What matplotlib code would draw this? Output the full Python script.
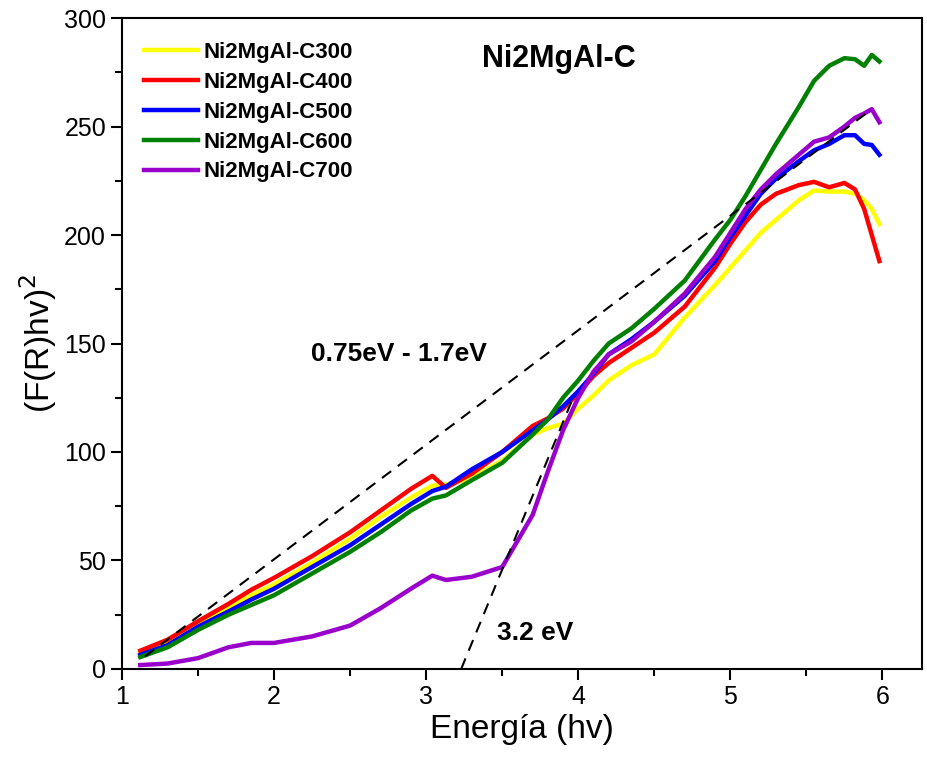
import matplotlib
matplotlib.use("Agg")
from matplotlib import pyplot as plt

plt.rcParams['font.family'] = ['Liberation Sans', 'DejaVu Sans']

# energy grid (eV) shared by all samples
energia = [1.12, 1.3, 1.5, 1.7, 1.85, 2.0, 2.25, 2.5, 2.7, 2.9, 3.04, 3.13,
           3.3, 3.5, 3.7, 3.8, 3.9, 4.0, 4.1, 4.2, 4.35, 4.5, 4.7, 4.9,
           5.0, 5.1, 5.2, 5.3, 5.45, 5.55, 5.65, 5.75, 5.82, 5.88, 5.93, 5.98]

c300 = [7.5, 12, 20.5, 28, 34, 39, 49, 60, 70, 79, 84.5, 85,
        88, 96, 108, 111, 113, 120, 126, 133, 140, 145, 162, 177,
        185, 193, 201, 207, 216, 220.5, 220, 220, 219, 216, 212, 205]
c400 = [8.4, 13.5, 22, 30, 36.5, 42, 52, 63, 73, 83, 89, 83.5,
        90, 100, 112, 115.5, 120, 127, 135, 141, 148, 155, 167, 185,
        196, 206, 214, 219, 223, 224.5, 222, 224, 221, 212, 200, 188]
c500 = [6.5, 11, 19.5, 26.5, 32, 37, 47, 57, 66.5, 76, 82, 84,
        92, 100, 110, 115, 121, 128, 136, 145, 152, 160, 172, 188,
        199, 209, 219, 226, 234, 239, 242, 246, 246, 242, 241.5, 237]
c600 = [5.5, 10, 18, 25, 29.5, 34, 44, 54, 63, 73, 78.5, 80,
        87, 95, 108, 115, 125, 133, 142, 150, 157, 166, 179, 198,
        207, 218, 230, 242, 259, 271, 278, 281.5, 281, 278, 283, 280]
c700 = [1.8, 2.5, 5, 10, 12, 12, 15, 20, 28, 37, 43, 41,
        42.5, 47, 71, 91, 110, 125, 137, 145, 151, 160, 173, 190,
        201, 212, 221, 228, 237, 243, 245, 250, 254, 256, 258, 252]

series = [c300, c400, c500, c600, c700]
nomes = ['Ni2MgAl-C300', 'Ni2MgAl-C400', 'Ni2MgAl-C500', 'Ni2MgAl-C600', 'Ni2MgAl-C700']
cores = ['#FFFF00', '#FF0000', '#0000FF', '#008000', '#9900CC']

# tangent lines (x, y endpoints)
tang1_x = [1.15, 5.93]
tang1_y = [5.7, 258]
tang2_x = [3.23, 3.96]
tang2_y = [0, 124]

fig = plt.figure(figsize=(9.28, 7.74), dpi=100)
ax = fig.add_axes([0.1315, 0.1357, 0.862, 0.841])

for y, nome, cor in zip(series, nomes, cores):
    ax.plot(energia, y, color=cor, lw=3.2, label=nome, solid_joinstyle='round')

ax.plot(tang1_x, tang1_y, color='black', lw=1.5, dashes=(5.5, 4))
ax.plot(tang2_x, tang2_y, color='black', lw=1.5, dashes=(5.5, 4))

ax.set_xlim(1, 6.26)
ax.set_ylim(0, 300)
ax.set_xticks([1, 2, 3, 4, 5, 6])
ax.set_xticks([1.5, 2.5, 3.5, 4.5, 5.5], minor=True)
ax.set_yticks([0, 50, 100, 150, 200, 250, 300])
ax.set_yticks([25, 75, 125, 175, 225, 275], minor=True)
ax.tick_params(which='major', length=8, width=1.5, labelsize=18, direction='out')
ax.tick_params(which='minor', length=5, width=1.5, direction='out')
for s in ax.spines.values():
    s.set_linewidth(1.5)

ax.set_xlabel('Energía (hv)', fontsize=24)
ax.set_ylabel('(F(R)hv)$^2$', fontsize=24)

ax.text(3.875, 281, 'Ni2MgAl-C', fontsize=22, fontweight='bold', ha='center', va='center')
ax.text(2.82, 145, '0.75eV - 1.7eV', fontsize=19, fontweight='bold', ha='center', va='center')
ax.text(3.72, 16.5, '3.2 eV', fontsize=19, fontweight='bold', ha='center', va='center')

leg = ax.legend(loc='upper left', bbox_to_anchor=(0.003, 0.994), frameon=False,
                prop={'size': 16, 'weight': 'bold'}, handlelength=2.4,
                handletextpad=0.27, labelspacing=0.4)
for l in leg.get_lines():
    l.set_linewidth(3.2)

plt.savefig('out.png')
